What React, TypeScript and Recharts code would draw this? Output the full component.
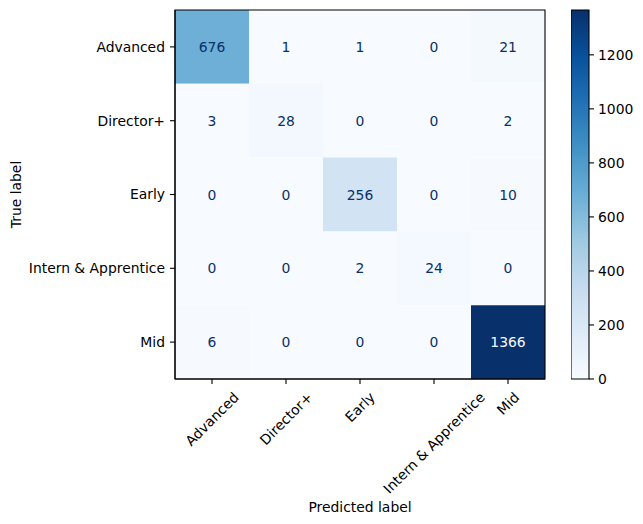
import React from 'react';
import { ScatterChart, Scatter, XAxis, YAxis, ReferenceArea, BarChart, Bar } from 'recharts';

const classes = ['Advanced', 'Director+', 'Early', 'Intern & Apprentice', 'Mid'];
const rowAdvanced = [676, 1, 1, 0, 21];
const rowDirector = [3, 28, 0, 0, 2];
const rowEarly = [0, 0, 256, 0, 10];
const rowIntern = [0, 0, 2, 24, 0];
const rowMid = [6, 0, 0, 0, 1366];
const matrix = [rowAdvanced, rowDirector, rowEarly, rowIntern, rowMid];
const colorbarTicks = [0, 200, 400, 600, 800, 1000, 1200];
const classTicks = [0, 1, 2, 3, 4];

const vmax = Math.max(...matrix.flat());
const vmin = Math.min(...matrix.flat());

const BLUES = ['#f7fbff', '#deebf7', '#c6dbef', '#9ecae1', '#6baed6', '#4292c6', '#2171b5', '#08519c', '#08306b'];

function hexToRgb(h: string) {
  return [parseInt(h.slice(1, 3), 16), parseInt(h.slice(3, 5), 16), parseInt(h.slice(5, 7), 16)];
}
function blues(t: number) {
  const tt = Math.max(0, Math.min(1, t)) * (BLUES.length - 1);
  const i = Math.min(Math.floor(tt), BLUES.length - 2);
  const f = tt - i;
  const a = hexToRgb(BLUES[i]);
  const b = hexToRgb(BLUES[i + 1]);
  const c = a.map((v, k) => Math.round(v + (b[k] - v) * f));
  return `rgb(${c[0]},${c[1]},${c[2]})`;
}

const cells = matrix.flatMap((row, r) => row.map((v, c) => ({ x: c, y: r, value: v })));
const colorbarData = [{ name: 'cb', v: vmax }];

const FONT = 'DejaVu Sans';
const FS = 13.9;

let ctx: CanvasRenderingContext2D | null = null;
function measure(s: string) {
  try {
    if (!ctx) ctx = document.createElement('canvas').getContext('2d');
    if (ctx) {
      ctx.font = `${FS}px "${FONT}"`;
      return ctx.measureText(s).width;
    }
  } catch (e) {}
  return s.length * FS * 0.6;
}

const XTick = (props: any) => {
  const { x, payload } = props;
  const label = classes[payload.value];
  const L = measure(label);
  const top = 389;
  const cy = top + (L + 16) * 0.7071 / 2;
  return (
    <g>
      <text
        x={x}
        y={cy}
        textAnchor="middle"
        dominantBaseline="central"
        transform={`rotate(-45 ${x} ${cy})`}
        fontFamily={FONT}
        fontSize={FS}
        fill="#000"
      >
        {label}
      </text>
    </g>
  );
};

const CellText = (props: any) => {
  const { cx, cy, payload } = props;
  const thresh = (vmax + vmin) / 2;
  const color = payload.value < thresh ? BLUES[8] : BLUES[0];
  return (
    <text x={cx} y={cy} textAnchor="middle" dominantBaseline="central" fontFamily={FONT} fontSize={FS} fill={color}>
      {payload.value}
    </text>
  );
};

export default function App() {
  return (
    <div style={{ position: 'absolute', left: 0, top: 0, width: 643, height: 524, background: '#fff' }}>
      <div style={{ position: 'absolute', left: 0, top: 0 }}>
        <ScatterChart width={643} height={524} margin={{ top: 10, right: 98, bottom: 45, left: 20 }}>
          <XAxis
            type="number"
            dataKey="x"
            domain={[-0.5, 4.5]}
            ticks={classTicks}
            interval={0}
            height={100}
            tickSize={5}
            tickLine={{ stroke: '#000', strokeWidth: 1.1 }}
            axisLine={{ stroke: '#000', strokeWidth: 1.1 }}
            tick={<XTick />}
          />
          <YAxis
            type="number"
            dataKey="y"
            domain={[-0.5, 4.5]}
            reversed
            ticks={classTicks}
            interval={0}
            width={155}
            tickSize={5}
            tickMargin={5}
            tickLine={{ stroke: '#000', strokeWidth: 1.1 }}
            axisLine={{ stroke: '#000', strokeWidth: 1.1 }}
            tickFormatter={(v: number) => classes[v]}
            tick={{ fontFamily: FONT, fontSize: FS, fill: '#000' }}
          />
          {cells.map((d) => (
            <ReferenceArea
              key={`${d.x}-${d.y}`}
              x1={d.x - 0.5}
              x2={d.x + 0.5}
              y1={d.y - 0.5}
              y2={d.y + 0.5}
              fill={blues((d.value - vmin) / (vmax - vmin))}
              fillOpacity={1}
              stroke="none"
              ifOverflow="visible"
            />
          ))}
          <ReferenceArea
            x1={-0.5}
            x2={4.5}
            y1={-0.5}
            y2={4.5}
            fill="none"
            fillOpacity={0}
            stroke="#000"
            strokeWidth={1.1}
            ifOverflow="visible"
          />
          <Scatter data={cells} dataKey="value" shape={<CellText />} isAnimationActive={false} />
        </ScatterChart>
      </div>
      <div style={{ position: 'absolute', left: 571, top: 0 }}>
        <BarChart
          width={72}
          height={524}
          data={colorbarData}
          margin={{ top: 10, right: 0, bottom: 145, left: 0 }}
          barCategoryGap={0}
          barGap={0}
        >
          <defs>
            <linearGradient id="bluesGrad" x1="0" y1="1" x2="0" y2="0">
              {BLUES.map((c, i) => (
                <stop key={i} offset={`${(i / (BLUES.length - 1)) * 100}%`} stopColor={c} />
              ))}
            </linearGradient>
          </defs>
          <XAxis dataKey="name" type="category" hide />
          <YAxis
            orientation="right"
            type="number"
            domain={[0, vmax]}
            ticks={colorbarTicks}
            interval={0}
            width={54}
            tickSize={5}
            tickMargin={4}
            axisLine={false}
            tickLine={{ stroke: '#000', strokeWidth: 1.1 }}
            tick={{ fontFamily: FONT, fontSize: FS, fill: '#000', textAnchor: 'start' }}
          />
          <Bar dataKey="v" fill="url(#bluesGrad)" stroke="#000" strokeWidth={1.1} isAnimationActive={false} />
        </BarChart>
      </div>
      <svg width={643} height={524} style={{ position: 'absolute', left: 0, top: 0, pointerEvents: 'none' }}>
        <text
          x={16}
          y={194.5}
          textAnchor="middle"
          dominantBaseline="central"
          transform="rotate(-90 16 194.5)"
          fontFamily={FONT}
          fontSize={FS}
          fill="#000"
        >
          True label
        </text>
        <text x={360} y={507} textAnchor="middle" dominantBaseline="central" fontFamily={FONT} fontSize={FS} fill="#000">
          Predicted label
        </text>
      </svg>
    </div>
  );
}
